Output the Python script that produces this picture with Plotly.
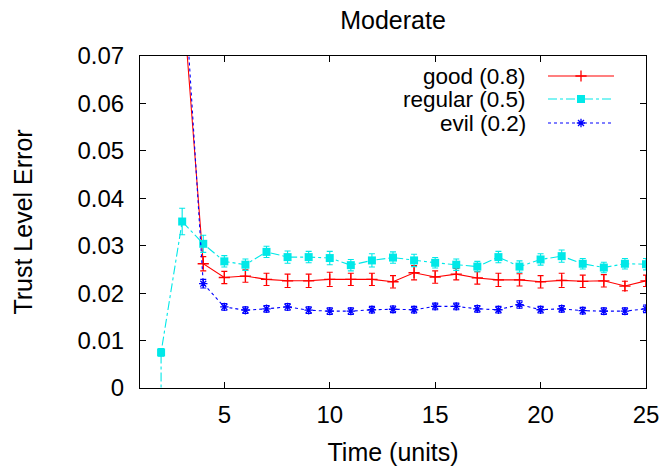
import plotly.graph_objects as go

# ---------------- data ----------------
t_good = [3, 4, 5, 6, 7, 8, 9, 10, 11, 12, 13, 14, 15, 16, 17, 18, 19, 20, 21, 22, 23, 24, 25]
good = [0.084, 0.0262, 0.0233, 0.0236, 0.0229, 0.0226, 0.0226, 0.0229, 0.0229, 0.0229, 0.0224,
        0.0243, 0.0234, 0.0240, 0.0232, 0.0228, 0.0228, 0.0224, 0.0227, 0.0225, 0.0226, 0.0215, 0.0226]
good_err = [0.0, 0.0015, 0.0013, 0.0013, 0.0013, 0.0014, 0.0014, 0.0015, 0.0013, 0.0013, 0.0013,
            0.0015, 0.0013, 0.0012, 0.0013, 0.0014, 0.0013, 0.0013, 0.0015, 0.0013, 0.0013, 0.0010, 0.0012]

t_regular = [2, 2, 3, 4, 5, 6, 7, 8, 9, 10, 11, 12, 13, 14, 15, 16, 17, 18, 19, 20, 21, 22, 23, 24, 25]
regular = [-0.01, 0.0075, 0.0351, 0.0304, 0.0267, 0.0260, 0.0287, 0.0276, 0.0276, 0.0274, 0.0259,
           0.0269, 0.0275, 0.0269, 0.0264, 0.0260, 0.0256, 0.0276, 0.0256, 0.0271, 0.0278, 0.0262,
           0.0254, 0.0262, 0.0261]
regular_err = [0.0, 0.0008, 0.0028, 0.0018, 0.0012, 0.0012, 0.0012, 0.0013, 0.0012, 0.0014, 0.0012,
               0.0014, 0.0012, 0.0013, 0.0011, 0.0012, 0.0011, 0.0012, 0.0012, 0.0012, 0.0013, 0.0011,
               0.0011, 0.0011, 0.0012]

t_evil = [3, 4, 5, 6, 7, 8, 9, 10, 11, 12, 13, 14, 15, 16, 17, 18, 19, 20, 21, 22, 23, 24, 25]
evil = [0.0926, 0.0220, 0.0171, 0.0164, 0.0167, 0.0171, 0.0164, 0.0162, 0.0162, 0.0165, 0.0166,
        0.0165, 0.0172, 0.0172, 0.0167, 0.0165, 0.0176, 0.0165, 0.0167, 0.0163, 0.0162, 0.0162, 0.0167]
evil_err = [0.0, 0.0009, 0.0007, 0.0007, 0.0007, 0.0007, 0.0007, 0.0007, 0.0007, 0.0007, 0.0007,
            0.0007, 0.0007, 0.0007, 0.0007, 0.0007, 0.0008, 0.0007, 0.0007, 0.0007, 0.0007, 0.0007, 0.0008]

names = ["good (0.8)", "regular (0.5)", "evil (0.2)"]
x_ticks = [5, 10, 15, 20, 25]
y_ticks = [0, 0.01, 0.02, 0.03, 0.04, 0.05, 0.06, 0.07]
y_labels = ["0", "0.01", "0.02", "0.03", "0.04", "0.05", "0.06", "0.07"]

# ---------------- styles ----------------
RED, CYAN, BLUE = "#ff0000", "#00e8e8", "#0000ff"
FONT = "Liberation Sans, Arial, sans-serif"
FS_TICK = 24
FS_KEY = 22.5
FS_TITLE = 25

styles = [
    dict(color=RED, dash="solid", symbol="cross-thin", msize=8, mline=1.3),
    dict(color=CYAN, dash="dashdot", symbol="square", msize=8, mline=0),
    dict(color=BLUE, dash="dot", symbol="asterisk", msize=7, mline=1.3),
]
series = [(t_good, good, good_err), (t_regular, regular, regular_err), (t_evil, evil, evil_err)]

fig = go.Figure()
for (xs, ys, es), st, nm in zip(series, styles, names):
    fig.add_trace(go.Scatter(
        x=xs, y=ys, name=nm, mode="lines+markers", showlegend=False,
        line=dict(color=st["color"], width=1.1, dash=st["dash"]),
        marker=dict(symbol=st["symbol"], size=st["msize"], color=st["color"],
                    line=dict(color=st["color"], width=st["mline"])),
        error_y=dict(type="data", array=es, visible=True, color=st["color"],
                     thickness=1.1, width=3),
    ))

# gnuplot-style key (text left, sample right) on an overlay axis in pixel units
L, R, T, B = 140, 646, 56, 388
key_rows = [76, 99, 123]
for nm, st, yk in zip(names, styles, key_rows):
    fig.add_trace(go.Scatter(
        x=[548, 614], y=[yk, yk], mode="lines", xaxis="x2", yaxis="y2", showlegend=False,
        line=dict(color=st["color"], width=1.1, dash=st["dash"]), hoverinfo="skip"))
    fig.add_trace(go.Scatter(
        x=[581], y=[yk], mode="markers", xaxis="x2", yaxis="y2", showlegend=False,
        marker=dict(symbol=st["symbol"], size=st["msize"], color=st["color"],
                    line=dict(color=st["color"], width=st["mline"])), hoverinfo="skip"))
    fig.add_annotation(x=527, y=yk, xref="x2", yref="y2", text=nm, showarrow=False,
                       xanchor="right", yanchor="middle", borderpad=0,
                       font=dict(family=FONT, size=FS_KEY, color="black"))

axis_common = dict(showgrid=False, zeroline=False, showline=True, linecolor="black",
                   linewidth=1, mirror="allticks", ticks="inside", ticklen=6,
                   tickcolor="black", tickwidth=1, automargin=False,
                   tickfont=dict(family=FONT, size=FS_TICK, color="black"))

fig.update_layout(
    width=663, height=466,
    margin=dict(l=L, r=663 - R, t=T, b=466 - B, autoexpand=False),
    paper_bgcolor="white", plot_bgcolor="white",
    font=dict(family=FONT, size=FS_TICK, color="black"),
    title=dict(text="Moderate", x=0.5, xref="paper", xanchor="center",
               y=1 - 20 / 466, yref="container", yanchor="middle",
               font=dict(family=FONT, size=FS_TITLE, color="black")),
    xaxis=dict(range=[1, 25], tickvals=x_ticks, ticklabelstandoff=5,
               title=dict(text="Time (units)", font=dict(family=FONT, size=FS_TITLE), standoff=18),
               **axis_common),
    yaxis=dict(range=[0, 0.07], tickvals=y_ticks, ticktext=y_labels, ticklabelstandoff=10,
               title=dict(text="Trust Level Error", font=dict(family=FONT, size=FS_TITLE), standoff=37),
               **axis_common),
    xaxis2=dict(overlaying="x", range=[L, R], visible=False, fixedrange=True),
    yaxis2=dict(overlaying="y", range=[B, T], visible=False, fixedrange=True),
    showlegend=False,
)

fig.write_html("out.html")
